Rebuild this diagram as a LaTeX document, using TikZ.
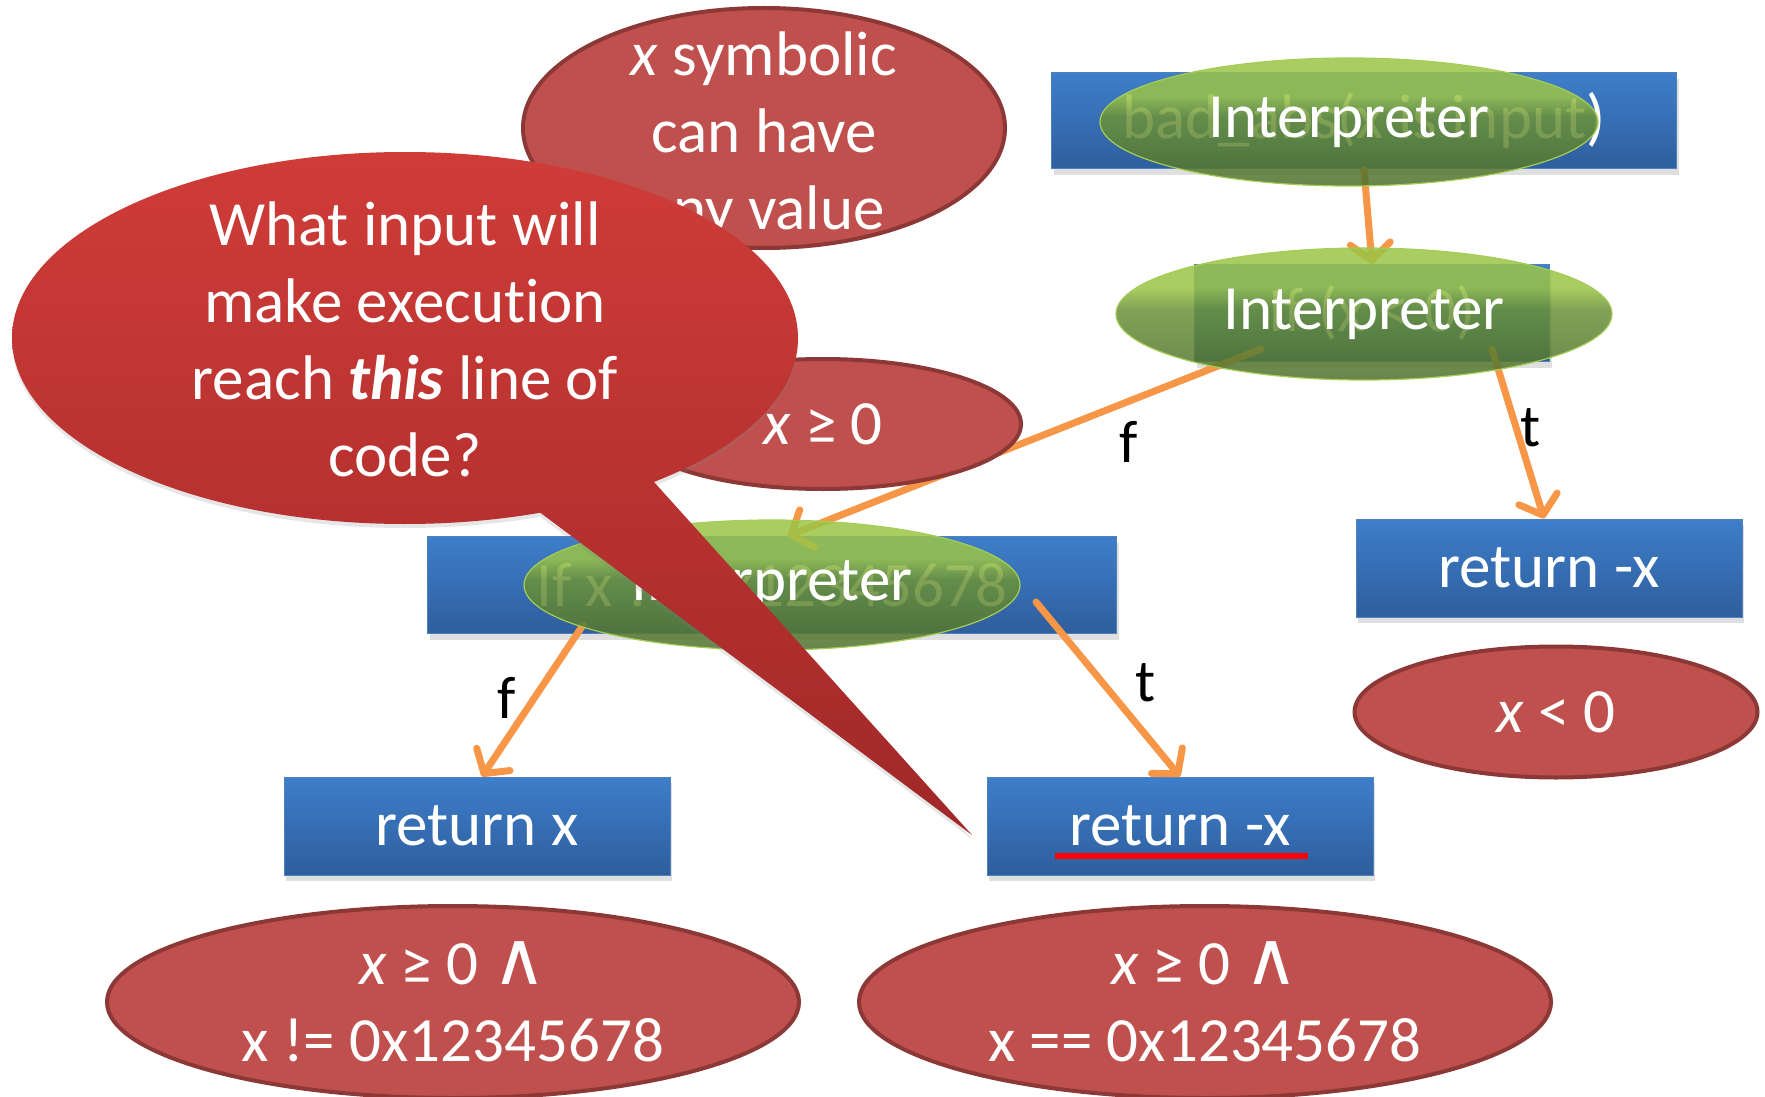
\documentclass[tikz,border=0pt]{standalone}
\usepackage{fontspec}
\setmainfont{Carlito}[Ligatures=NoCommon]
\newfontfamily\symfont{DejaVu Sans}
\usetikzlibrary{shapes.geometric,arrows.meta,shadows}

\definecolor{boxtop}{RGB}{62,126,202}
\definecolor{boxbot}{RGB}{46,94,157}
\definecolor{boxline}{RGB}{79,129,189}
\definecolor{condfill}{RGB}{192,80,77}
\definecolor{condline}{RGB}{140,56,54}
\definecolor{glight}{RGB}{155,196,70}
\definecolor{gmid}{RGB}{108,146,56}
\definecolor{gdark}{RGB}{78,112,44}
\definecolor{gline}{RGB}{165,205,85}
\definecolor{floworange}{RGB}{247,150,70}
\definecolor{asktop}{RGB}{207,60,56}
\definecolor{askbot}{RGB}{160,40,40}

\pgfdeclareverticalshading{glossy}{100bp}{color(0bp)=(gdark); color(25bp)=(gdark); color(52bp)=(gmid); color(60bp)=(glight); color(75bp)=(glight); color(100bp)=(glight)}

\newcommand{\wedgeop}{{\symfont\fontsize{74}{77}\selectfont ∧}}

\tikzset{
  bigtext/.style={font=\fontsize{63}{77}\selectfont},
  stmt/.style={rectangle, draw=boxline, line width=1pt, top color=boxtop, bottom color=boxbot,
    text=white, bigtext, inner sep=0pt,
    drop shadow={shadow xshift=2pt, shadow yshift=-6pt, opacity=.25}},
  interpreter/.style={ellipse, draw=gline, line width=1.2pt, shade, shading=glossy,
    fill opacity=.85, text opacity=1, text=white, bigtext, inner sep=0pt},
  cond/.style={ellipse, draw=condline, line width=4pt, fill=condfill, text=white,
    bigtext, align=center, inner sep=0pt},
  flow/.style={draw=floworange, line width=7pt, line cap=round,
    -{Straight Barb[length=17pt,width=40pt,round]}},
  lbl/.style={font=\fontsize{60}{72}\selectfont, inner sep=0pt}
}

\begin{document}
\begin{tikzpicture}[x=1pt,y=-1pt]
\useasboundingbox (0,0) rectangle (1765,1097);

\node[cond, minimum width=482pt, minimum height=240pt] (sym) at (764,128) {};
\node[text=white, bigtext, align=center] (symtext) at ([shift={(0,8)}]sym.center) {\textit{x} symbolic\\can have\\any value};

\node[stmt, minimum width=625pt, minimum height=96pt] (entry) at (1364,121) {bad\_abs(x is input)};
\node[stmt, minimum width=355pt, minimum height=97pt] (test) at (1372,313) {If (x < 0)};
\node[stmt, minimum width=689pt, minimum height=97pt] (magic) at (772,585) {If x != 0x12345678};
\node[stmt, minimum width=386pt, minimum height=98pt] (negA) at (1549,568) {return -x};
\node[stmt, minimum width=386pt, minimum height=98pt] (pos) at (477,826) {return x};
\node[stmt, minimum width=386pt, minimum height=98pt] (negB) at (1180,826) {return -x};

\draw[flow] (entry.south) -- (test.north);
\draw[flow] ([shift={(-111,36)}]test.center) -- ([shift={(16,0)}]magic.north);
\draw[flow] ([shift={(120,36)}]test.center) -- ([shift={(-5,0)}]negA.north);
\draw[flow] ([shift={(-189,40)}]magic.center) -- ([shift={(5,0)}]pos.north);
\draw[flow] ([shift={(264,17)}]magic.center) -- (negB.north);

\node[interpreter, minimum width=498pt, minimum height=128pt] (run1) at (1349,122) {Interpreter};
\node[interpreter, minimum width=496pt, minimum height=132pt] (run2) at (1364,314) {Interpreter};
\node[interpreter, minimum width=496pt, minimum height=130pt] (run3) at (772,585) {Interpreter};

\node[cond, minimum width=396pt, minimum height=130pt] (ge) at (823,424) {\textit{x} ≥ 0};
\node[cond, minimum width=403pt, minimum height=131pt] (lt) at (1556,712) {\textit{x} < 0};
\node[cond, minimum width=692pt, minimum height=192pt] (pathA) at (453,1002) {\textit{x} ≥ 0 \wedgeop\\x != 0x12345678};
\node[cond, minimum width=692pt, minimum height=192pt] (pathB) at (1205,1002) {\textit{x} ≥ 0 \wedgeop\\x == 0x12345678};

\node[lbl] (fA) at (1129,442) {f};
\node[lbl] (tA) at (1531,428) {t};
\node[lbl] (fB) at (507,698) {f};
\node[lbl] (tB) at (1146,683) {t};

\path[top color=asktop, bottom color=askbot,
  drop shadow={shadow xshift=0pt, shadow yshift=-4pt, opacity=.2}]
  (405,338) ellipse [x radius=393pt, y radius=186pt]
  (530,505) -- (972,835) -- (645,472) -- cycle;
\node[text=white, bigtext, align=center] (ask) at (405,339) {What input will\\make execution\\reach \textbf{\textit{this}} line of\\code?};

\draw[red, line width=6pt] ([shift={(-125,30)}]negB.center) -- ([shift={(128,30)}]negB.center);
\end{tikzpicture}
\end{document}
